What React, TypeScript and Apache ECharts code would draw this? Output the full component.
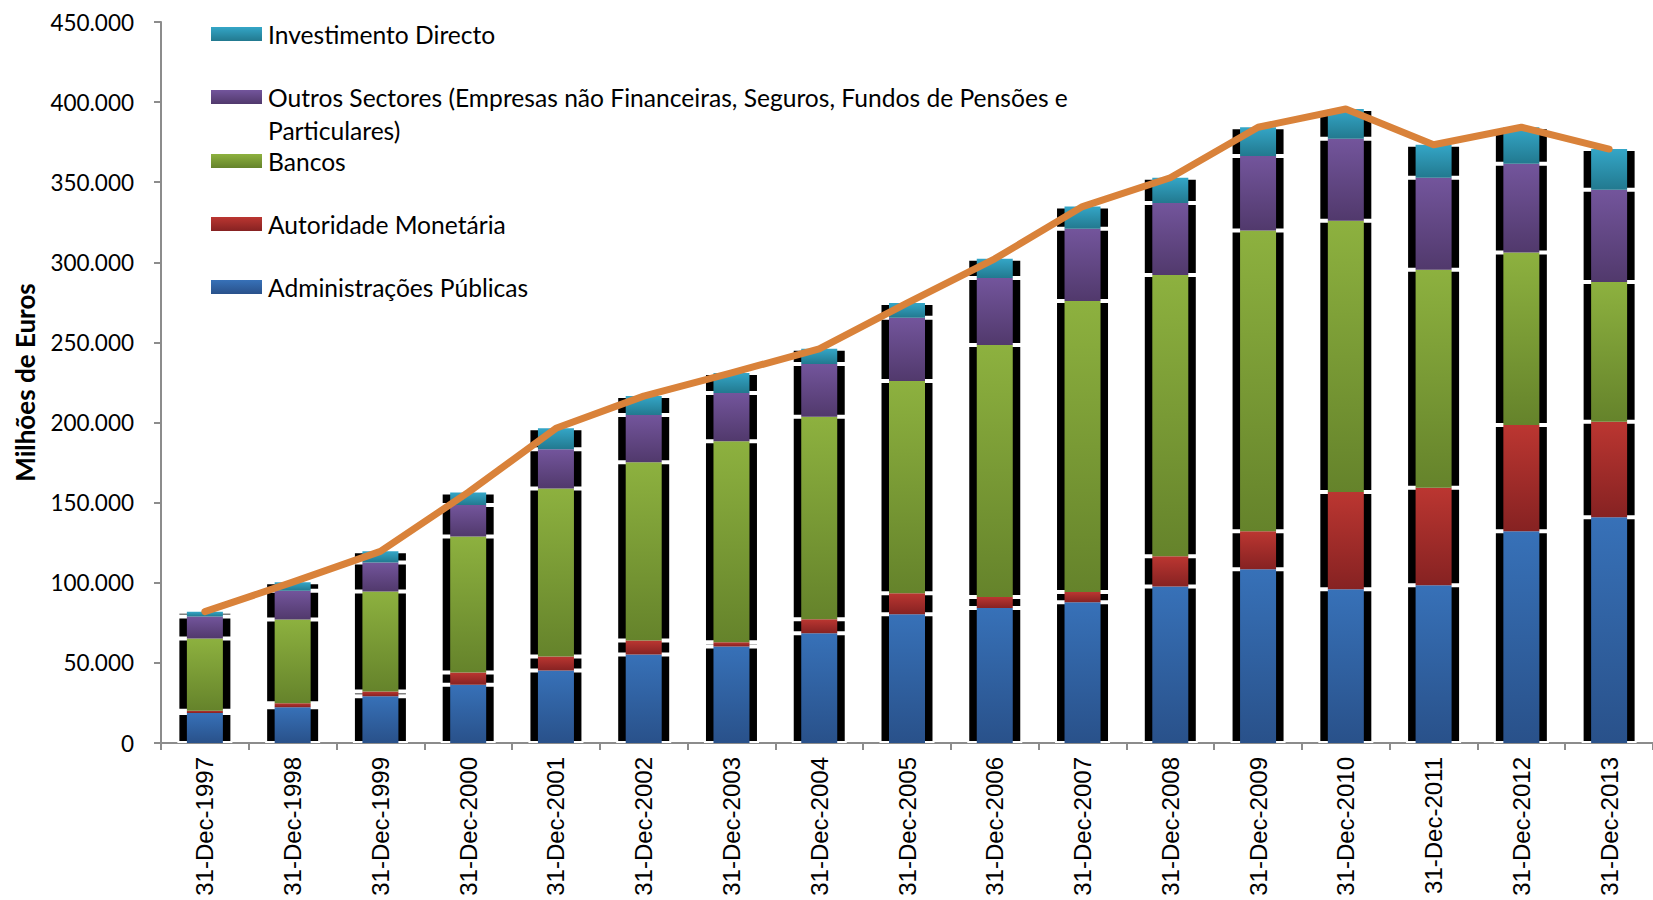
import React, { useEffect, useRef } from "react";
import * as echarts from "echarts";

const categories = [
  "31-Dec-1997", "31-Dec-1998", "31-Dec-1999", "31-Dec-2000", "31-Dec-2001",
  "31-Dec-2002", "31-Dec-2003", "31-Dec-2004", "31-Dec-2005", "31-Dec-2006",
  "31-Dec-2007", "31-Dec-2008", "31-Dec-2009", "31-Dec-2010", "31-Dec-2011",
  "31-Dec-2012", "31-Dec-2013",
];

const administracoesPublicas = [18800, 22300, 29200, 36400, 45200, 55300, 60300, 68500, 80400, 84200, 87900, 97600, 108400, 95900, 98400, 132200, 140900];
const autoridadeMonetaria = [1400, 2500, 2900, 7600, 8800, 8600, 2600, 8700, 13100, 6900, 6300, 18900, 23800, 60700, 60900, 66200, 59600];
const bancos = [45000, 52300, 62500, 84900, 104900, 111400, 125500, 126400, 132400, 157300, 181700, 175600, 187600, 169400, 136100, 107800, 87300];
const outrosSectores = [13700, 17900, 18100, 19600, 24400, 29400, 30100, 33000, 39500, 41800, 45100, 45000, 46600, 51200, 57400, 55300, 57500];
const investimentoDirecto = [3000, 5400, 6900, 7900, 13100, 11800, 12500, 9400, 9200, 12000, 13800, 15700, 17900, 18500, 20600, 22800, 25400];
const totalDivida = [82000, 100400, 119600, 156400, 196400, 216500, 231000, 246000, 274600, 302200, 334800, 352800, 384300, 395700, 373400, 384300, 370700];

const seriesNames = [
  "Administrações Públicas",
  "Autoridade Monetária",
  "Bancos",
  "Outros Sectores (Empresas não Financeiras, Seguros, Fundos de Pensões e Particulares)",
  "Investimento Directo",
];
const legendLabels = [
  "Administrações Públicas",
  "Autoridade Monetária",
  "Bancos",
  "Outros Sectores (Empresas não Financeiras, Seguros, Fundos de Pensões e\nParticulares)",
  "Investimento Directo",
];
const yTicks = [0, 50000, 100000, 150000, 200000, 250000, 300000, 350000, 400000, 450000];

const gradients: [string, string][] = [
  ["#3771b8", "#29518a"],
  ["#bb3631", "#862222"],
  ["#8db13f", "#65832b"],
  ["#73559c", "#51396c"],
  ["#34a6c7", "#22798f"],
];

function grad(i: number) {
  return new echarts.graphic.LinearGradient(0, 0, 0, 1, [
    { offset: 0, color: gradients[i][0] },
    { offset: 1, color: gradients[i][1] },
  ]);
}

function fmt(v: number) {
  if (v === 0) return "0";
  const s = String(Math.round(v));
  return s.replace(/\B(?=(\d{3})+(?!\d))/g, ".");
}

export default function App() {
  const ref = useRef<HTMLDivElement>(null);
  useEffect(() => {
    if (!ref.current) return;
    const chart = echarts.init(ref.current, undefined, { renderer: "svg" });
    const values = [administracoesPublicas, autoridadeMonetaria, bancos, outrosSectores, investimentoDirecto];

    const shadowSeries = values.map((d, i) => ({
      name: "sombra-" + i,
      type: "bar",
      xAxisIndex: 1,
      stack: "sombra",
      barWidth: 55,
      data: d,
      z: 1,
      itemStyle: { color: "#000", borderColor: "#fff", borderWidth: 2 },
      silent: true,
    }));
    const barSeries = values.map((d, i) => ({
      name: seriesNames[i],
      type: "bar",
      xAxisIndex: 0,
      stack: "total",
      barWidth: 36,
      data: d,
      z: 2,
      itemStyle: { color: grad(i) },
    }));

    const legendCy = [287, 224, 161, 97, 34];
    const legendGraphics: any[] = [];
    for (let i = 0; i < 5; i++) {
      const cy = legendCy[i];
      legendGraphics.push({
        type: "rect",
        left: 211,
        top: cy - 7,
        shape: { width: 51, height: 14 },
        style: { fill: grad(i) },
      });
      legendGraphics.push({
        type: "text",
        x: 268,
        y: i === 3 ? cy - 16.5 : cy,
        style: {
          text: legendLabels[i],
          fontFamily: "Lato",
          fontSize: 24.6,
          lineHeight: 33,
          fill: "#000",
          verticalAlign: i === 3 ? "top" : "middle",
        },
      });
    }

    chart.setOption({
      animation: false,
      backgroundColor: "#fff",
      grid: { left: 161, right: -4, top: 22, bottom: 157, containLabel: false },
      xAxis: [
        {
          type: "category",
          data: categories,
          boundaryGap: true,
          axisLine: { lineStyle: { color: "#8c8c8c", width: 2 } },
          axisTick: { show: true, length: 7, lineStyle: { color: "#8c8c8c", width: 2 } },
          axisLabel: {
            rotate: 90,
            interval: 0,
            margin: 14,
            fontFamily: "Liberation Sans",
            fontSize: 24,
            color: "#000",
          },
        },
        {
          type: "category",
          data: categories,
          show: false,
        },
      ],
      yAxis: {
        type: "value",
        min: 0,
        max: 450000,
        interval: 50000,
        name: "Milhões de Euros",
        nameLocation: "middle",
        nameGap: 123,
        nameTextStyle: { fontFamily: "Lato", fontWeight: "bold", fontSize: 26, color: "#000" },
        axisLine: { show: true, lineStyle: { color: "#8c8c8c", width: 2 } },
        axisTick: { show: true, length: 7, lineStyle: { color: "#8c8c8c", width: 2 } },
        splitLine: { show: false },
        axisLabel: {
          margin: 27,
          fontFamily: "Lato",
          fontSize: 22.5,
          color: "#000",
          formatter: (v: number) => (yTicks.includes(v) ? fmt(v) : ""),
        },
      },
      series: [
        ...shadowSeries,
        ...barSeries,
        {
          name: "Total",
          type: "line",
          xAxisIndex: 0,
          data: totalDivida,
          symbol: "none",
          z: 5,
          lineStyle: { color: "#d9823a", width: 7, cap: "round", join: "round" },
        },
      ],
      graphic: legendGraphics,
    });
    return () => chart.dispose();
  }, []);
  return (
    <div
      ref={ref}
      style={{ position: "fixed", left: 0, top: 0, width: 1653, height: 900, background: "#fff" }}
    />
  );
}
